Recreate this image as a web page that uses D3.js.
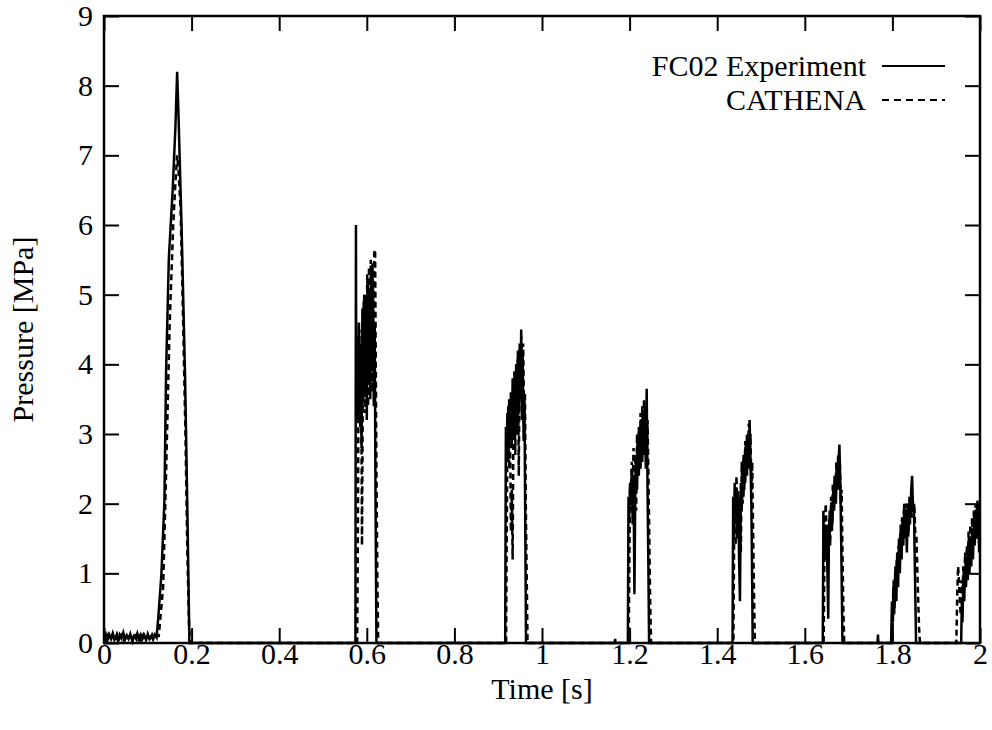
<!DOCTYPE html>
<html>
<head>
<meta charset="utf-8">
<script src="https://cdn.jsdelivr.net/npm/d3@7"></script>
<style>
  body { margin: 0; background: #fff; }
  svg text { font-family: "Liberation Serif", "DejaVu Serif", serif; }
</style>
</head>
<body>
<div id="chart"></div>
<script>
// SVG area
var svgWidth = 992;
var svgHeight = 730;

var margin = { top: 16, right: 12, bottom: 87, left: 104 };
var width = svgWidth - margin.left - margin.right;
var height = svgHeight - margin.top - margin.bottom;

// Axis ticks
var xTicks = [0, 0.2, 0.4, 0.6, 0.8, 1, 1.2, 1.4, 1.6, 1.8, 2];
var yTicks = [0, 1, 2, 3, 4, 5, 6, 7, 8, 9];

// FC02 experiment (solid) - [time s, pressure MPa]
var experiment = [
  [0, 0.08], [0.004, 0.13], [0.008, 0.04], [0.012, 0.12], [0.016, 0.06], [0.02, 0.14],
  [0.024, 0.05], [0.028, 0.1], [0.032, 0.03], [0.036, 0.12], [0.04, 0.07], [0.044, 0.15],
  [0.048, 0.05], [0.052, 0.11], [0.056, 0.06], [0.06, 0.13], [0.064, 0.04], [0.068, 0.1],
  [0.072, 0.07], [0.076, 0.14], [0.08, 0.05], [0.084, 0.12], [0.088, 0.06], [0.092, 0.11],
  [0.096, 0.04], [0.1, 0.13], [0.104, 0.06], [0.108, 0.1], [0.112, 0.05], [0.116, 0.12],
  [0.12, 0.08], [0.124, 0.37], [0.131, 0.98], [0.138, 2.05], [0.1416, 3.85], [0.148, 5.52],
  [0.157, 6.53], [0.163, 7.4], [0.167, 8.2], [0.170, 7.6], [0.177, 6.0], [0.185, 3.85],
  [0.190, 2.05], [0.195, 0], [0.574, 0],
  [0.5752, 6.0], [0.5758, 3.9], [0.578, 4.4], [0.580, 3.2], [0.582, 4.6], [0.584, 3.4],
  [0.586, 4.2], [0.588, 2.8], [0.590, 4.8], [0.592, 3.5], [0.594, 5.0], [0.596, 3.6],
  [0.598, 4.9], [0.600, 3.2], [0.602, 5.2], [0.604, 3.8], [0.606, 5.1], [0.608, 3.5],
  [0.610, 5.3], [0.612, 4.0], [0.614, 5.2], [0.616, 3.4], [0.618, 4.6], [0.620, 2.0],
  [0.6215, 0.5], [0.622, 0], [0.916, 0],
  [0.9175, 3.1], [0.919, 2.7], [0.921, 3.3], [0.923, 2.6], [0.925, 3.5], [0.927, 2.9],
  [0.929, 3.6], [0.931, 2.8], [0.933, 3.8], [0.935, 3.0], [0.937, 3.9], [0.939, 3.2],
  [0.941, 4.0], [0.943, 3.0], [0.945, 4.2], [0.947, 3.3], [0.949, 4.3], [0.951, 3.6],
  [0.9525, 4.5], [0.954, 3.2], [0.956, 4.1], [0.958, 2.9], [0.960, 3.5], [0.962, 1.5],
  [0.9635, 0], [1.166, 0], [1.167, 0.06], [1.168, 0], [1.196, 0],
  [1.1975, 2.1], [1.199, 1.8], [1.201, 2.3], [1.203, 2.0], [1.205, 2.5], [1.207, 1.7],
  [1.209, 2.4], [1.211, 0.7], [1.213, 2.2], [1.215, 2.7], [1.217, 2.2], [1.219, 2.9],
  [1.221, 2.4], [1.223, 3.0], [1.225, 2.5], [1.227, 3.2], [1.229, 2.6], [1.231, 3.3],
  [1.233, 2.7], [1.235, 3.4], [1.237, 2.5], [1.239, 3.65], [1.241, 2.2], [1.243, 1.0],
  [1.2445, 0], [1.435, 0],
  [1.4365, 2.1], [1.438, 1.6], [1.440, 2.3], [1.442, 1.9], [1.444, 2.2], [1.446, 1.5],
  [1.448, 2.1], [1.450, 1.2], [1.452, 0.6], [1.454, 2.3], [1.456, 1.9], [1.458, 2.5],
  [1.460, 2.1], [1.462, 2.7], [1.464, 2.3], [1.466, 2.9], [1.468, 2.4], [1.470, 3.0],
  [1.472, 2.5], [1.474, 3.2], [1.476, 2.6], [1.478, 2.0], [1.480, 0.8], [1.481, 0],
  [1.641, 0],
  [1.6425, 1.9], [1.644, 1.3], [1.646, 1.7], [1.648, 1.2], [1.650, 1.6], [1.652, 0.9],
  [1.6535, 0.35], [1.655, 1.5], [1.657, 1.9], [1.659, 1.6], [1.661, 2.0], [1.663, 1.7],
  [1.665, 2.2], [1.667, 1.9], [1.669, 2.4], [1.671, 2.0], [1.673, 2.5], [1.675, 2.2],
  [1.677, 2.6], [1.679, 2.85], [1.681, 2.3], [1.683, 1.5], [1.685, 0.5], [1.686, 0],
  [1.766, 0], [1.767, 0.12], [1.768, 0], [1.797, 0],
  [1.799, 0.6], [1.801, 0.3], [1.803, 0.9], [1.805, 0.5], [1.807, 1.1], [1.809, 0.6],
  [1.811, 1.3], [1.813, 0.8], [1.815, 1.5], [1.817, 1.0], [1.819, 1.7], [1.821, 1.2],
  [1.823, 1.8], [1.825, 1.4], [1.827, 2.0], [1.829, 1.5], [1.831, 1.9], [1.833, 1.3],
  [1.835, 2.0], [1.837, 1.6], [1.839, 2.1], [1.841, 1.8], [1.843, 2.2], [1.845, 2.4],
  [1.847, 1.9], [1.849, 2.0], [1.851, 1.2], [1.853, 0.4], [1.854, 0], [1.957, 0],
  [1.9585, 0.6], [1.960, 0.3], [1.962, 0.9], [1.964, 0.6], [1.966, 1.1], [1.968, 0.8],
  [1.970, 1.2], [1.972, 0.9], [1.974, 1.3], [1.976, 1.0], [1.978, 1.5], [1.980, 1.1],
  [1.982, 1.6], [1.984, 1.2], [1.986, 1.7], [1.988, 1.4], [1.990, 1.8], [1.992, 1.5],
  [1.994, 1.6], [1.996, 1.9], [1.998, 1.3], [2.0, 1.5]
];

// CATHENA (dashed) - [time s, pressure MPa]
var cathena = [
  [0, 0.1], [0.005, 0.03], [0.01, 0.12], [0.015, 0.05], [0.02, 0.1], [0.025, 0.02],
  [0.03, 0.13], [0.035, 0.06], [0.04, 0.11], [0.045, 0.03], [0.05, 0.12], [0.055, 0.07],
  [0.06, 0.1], [0.065, 0.02], [0.07, 0.14], [0.075, 0.05], [0.08, 0.1], [0.085, 0.03],
  [0.09, 0.12], [0.095, 0.06], [0.1, 0.11], [0.105, 0.04], [0.11, 0.12], [0.115, 0.05],
  [0.12, 0.1], [0.125, 0.1], [0.135, 0.8], [0.142, 2.5], [0.15, 4.6], [0.158, 6.0],
  [0.163, 6.6], [0.167, 7.0], [0.170, 6.8], [0.175, 6.2], [0.18, 4.8], [0.186, 3.0],
  [0.19, 1.4], [0.194, 0.3], [0.196, 0], [0.578, 0],
  [0.5795, 1.5], [0.581, 3.5], [0.583, 4.5], [0.585, 3.1], [0.587, 4.3], [0.589, 1.4],
  [0.591, 3.8], [0.593, 4.9], [0.595, 3.3], [0.597, 5.0], [0.599, 3.6], [0.601, 5.3],
  [0.603, 3.4], [0.605, 5.4], [0.607, 3.9], [0.609, 5.5], [0.611, 3.6], [0.613, 5.45],
  [0.615, 4.1], [0.617, 5.6], [0.619, 5.65], [0.6205, 4.0], [0.622, 2.5], [0.624, 1.0],
  [0.626, 0], [0.918, 0],
  [0.9195, 1.5], [0.921, 3.0], [0.923, 3.4], [0.925, 2.5], [0.927, 3.2], [0.929, 1.6],
  [0.931, 2.2], [0.933, 1.2], [0.935, 3.3], [0.937, 3.6], [0.939, 2.7], [0.941, 3.9],
  [0.943, 3.4], [0.945, 4.1], [0.947, 2.4], [0.949, 4.2], [0.951, 3.5], [0.953, 4.4],
  [0.955, 3.7], [0.957, 4.3], [0.959, 3.2], [0.961, 3.6], [0.963, 2.0], [0.965, 1.0],
  [0.967, 0], [1.198, 0],
  [1.1995, 1.2], [1.201, 2.2], [1.203, 1.9], [1.205, 2.6], [1.207, 2.2], [1.209, 2.8],
  [1.211, 2.0], [1.213, 2.7], [1.215, 1.9], [1.217, 3.0], [1.219, 2.4], [1.221, 3.1],
  [1.223, 2.6], [1.225, 3.3], [1.227, 2.8], [1.229, 3.4], [1.231, 2.9], [1.233, 3.5],
  [1.235, 3.0], [1.237, 3.4], [1.239, 2.5], [1.241, 3.2], [1.243, 2.4], [1.245, 1.5],
  [1.247, 0.6], [1.249, 0], [1.437, 0],
  [1.4385, 1.4], [1.440, 2.0], [1.442, 1.4], [1.444, 2.4], [1.446, 1.8], [1.448, 2.2],
  [1.450, 1.5], [1.452, 2.0], [1.454, 1.3], [1.456, 2.6], [1.458, 2.0], [1.460, 2.7],
  [1.462, 2.2], [1.464, 2.9], [1.466, 2.5], [1.468, 3.0], [1.470, 2.6], [1.472, 3.15],
  [1.474, 2.7], [1.476, 3.0], [1.478, 2.2], [1.480, 2.6], [1.482, 1.6], [1.484, 0.7],
  [1.486, 0], [1.643, 0],
  [1.6445, 1.0], [1.646, 1.8], [1.648, 2.0], [1.650, 1.4], [1.652, 1.7], [1.654, 1.2],
  [1.656, 1.8], [1.658, 1.4], [1.660, 2.1], [1.662, 1.6], [1.664, 2.3], [1.666, 1.9],
  [1.668, 2.4], [1.670, 2.1], [1.672, 2.6], [1.674, 2.2], [1.676, 2.7], [1.678, 2.3],
  [1.680, 2.6], [1.682, 2.0], [1.684, 2.2], [1.686, 1.3], [1.688, 0.5], [1.690, 0],
  [1.800, 0],
  [1.802, 0.8], [1.804, 0.4], [1.806, 1.0], [1.808, 0.7], [1.810, 1.2], [1.812, 0.9],
  [1.814, 1.4], [1.816, 1.1], [1.818, 1.6], [1.820, 1.3], [1.822, 1.8], [1.824, 1.5],
  [1.826, 1.9], [1.828, 1.6], [1.830, 2.0], [1.832, 1.7], [1.834, 2.0], [1.836, 1.5],
  [1.838, 1.9], [1.840, 1.7], [1.842, 2.0], [1.844, 1.8], [1.846, 2.1], [1.848, 1.9],
  [1.850, 2.0], [1.852, 1.6], [1.855, 1.5], [1.858, 0.8], [1.861, 0.2], [1.863, 0],
  [1.946, 0],
  [1.948, 0.7], [1.950, 1.1], [1.952, 0.9], [1.954, 0.6], [1.956, 0.4], [1.958, 0.9],
  [1.960, 0.7], [1.962, 1.1], [1.964, 0.8], [1.966, 1.3], [1.968, 1.0], [1.970, 1.4],
  [1.972, 1.1], [1.974, 1.6], [1.976, 1.2], [1.978, 1.7], [1.980, 1.4], [1.982, 1.8],
  [1.984, 1.5], [1.986, 1.9], [1.988, 1.6], [1.990, 2.0], [1.992, 1.7], [1.994, 2.05],
  [1.996, 1.8], [1.998, 2.0], [2.0, 1.9]
];

var serif = "'Liberation Serif', 'DejaVu Serif', serif";

var svg = d3.select("#chart")
  .append("svg")
  .attr("width", svgWidth)
  .attr("height", svgHeight)
  .attr("font-family", serif);

var chartGroup = svg.append("g")
  .attr("transform", `translate(${margin.left}, ${margin.top})`);

var xScale = d3.scaleLinear().domain([0, 2]).range([0, width]);
var yScale = d3.scaleLinear().domain([0, 9]).range([height, 0]);

var tickLen = 15;
var fontSize = 30;

// bottom axis with inward ticks
var xAxis = chartGroup.append("g")
  .attr("transform", `translate(0, ${height})`)
  .call(d3.axisBottom(xScale).tickValues(xTicks).tickSizeInner(-tickLen).tickSizeOuter(0)
    .tickPadding(0).tickFormat(d => String(d)));

// left axis
var yAxis = chartGroup.append("g")
  .call(d3.axisLeft(yScale).tickValues(yTicks).tickSizeInner(-tickLen).tickSizeOuter(0)
    .tickPadding(11).tickFormat(d => String(d)));

// mirrored ticks top and right
var topAxis = chartGroup.append("g")
  .call(d3.axisTop(xScale).tickValues(xTicks).tickSizeInner(-tickLen).tickSizeOuter(0).tickFormat(""));
var rightAxis = chartGroup.append("g")
  .attr("transform", `translate(${width}, 0)`)
  .call(d3.axisRight(yScale).tickValues(yTicks).tickSizeInner(-tickLen).tickSizeOuter(0).tickFormat(""));

[xAxis, yAxis, topAxis, rightAxis].forEach(function(ax) {
  ax.attr("font-family", serif).attr("font-size", fontSize);
  ax.select(".domain").remove();
  ax.selectAll(".tick line").attr("stroke", "#000").attr("stroke-width", 2);
  ax.selectAll("text")
    .style("font-family", serif)
    .attr("font-size", fontSize)
    .attr("fill", "#000");
});

// data lines
var line = d3.line()
  .x(d => xScale(d[0]))
  .y(d => yScale(d[1]));

chartGroup.append("path")
  .datum(cathena)
  .attr("d", line)
  .attr("fill", "none")
  .attr("stroke", "#000")
  .attr("stroke-width", 2.5)
  .attr("stroke-dasharray", "6,4");

chartGroup.append("path")
  .datum(experiment)
  .attr("d", line)
  .attr("fill", "none")
  .attr("stroke", "#000")
  .attr("stroke-width", 2.5);

// frame
chartGroup.append("rect")
  .attr("x", 0)
  .attr("y", 0)
  .attr("width", width)
  .attr("height", height)
  .attr("fill", "none")
  .attr("stroke", "#000")
  .attr("stroke-width", 2.5);

// axis titles
svg.append("text")
  .attr("x", margin.left + width / 2)
  .attr("y", 699)
  .attr("text-anchor", "middle")
  .attr("font-size", fontSize)
  .style("font-family", serif)
  .text("Time [s]");

svg.append("text")
  .attr("transform", `translate(33, ${margin.top + height / 2}) rotate(-90)`)
  .attr("text-anchor", "middle")
  .attr("font-size", fontSize)
  .style("font-family", serif)
  .text("Pressure [MPa]");

// legend
var legendItems = [
  { label: "FC02 Experiment", dash: null, y: 66 },
  { label: "CATHENA", dash: "7,5", y: 100 }
];

var legend = svg.append("g");
legendItems.forEach(function(item) {
  legend.append("text")
    .attr("x", 866)
    .attr("y", item.y)
    .attr("dy", "0.33em")
    .attr("text-anchor", "end")
    .attr("font-size", fontSize)
    .style("font-family", serif)
    .text(item.label);
  legend.append("line")
    .attr("x1", 882)
    .attr("x2", 945)
    .attr("y1", item.y)
    .attr("y2", item.y)
    .attr("stroke", "#000")
    .attr("stroke-width", 1.8)
    .attr("stroke-dasharray", item.dash);
});
</script>
</body>
</html>
